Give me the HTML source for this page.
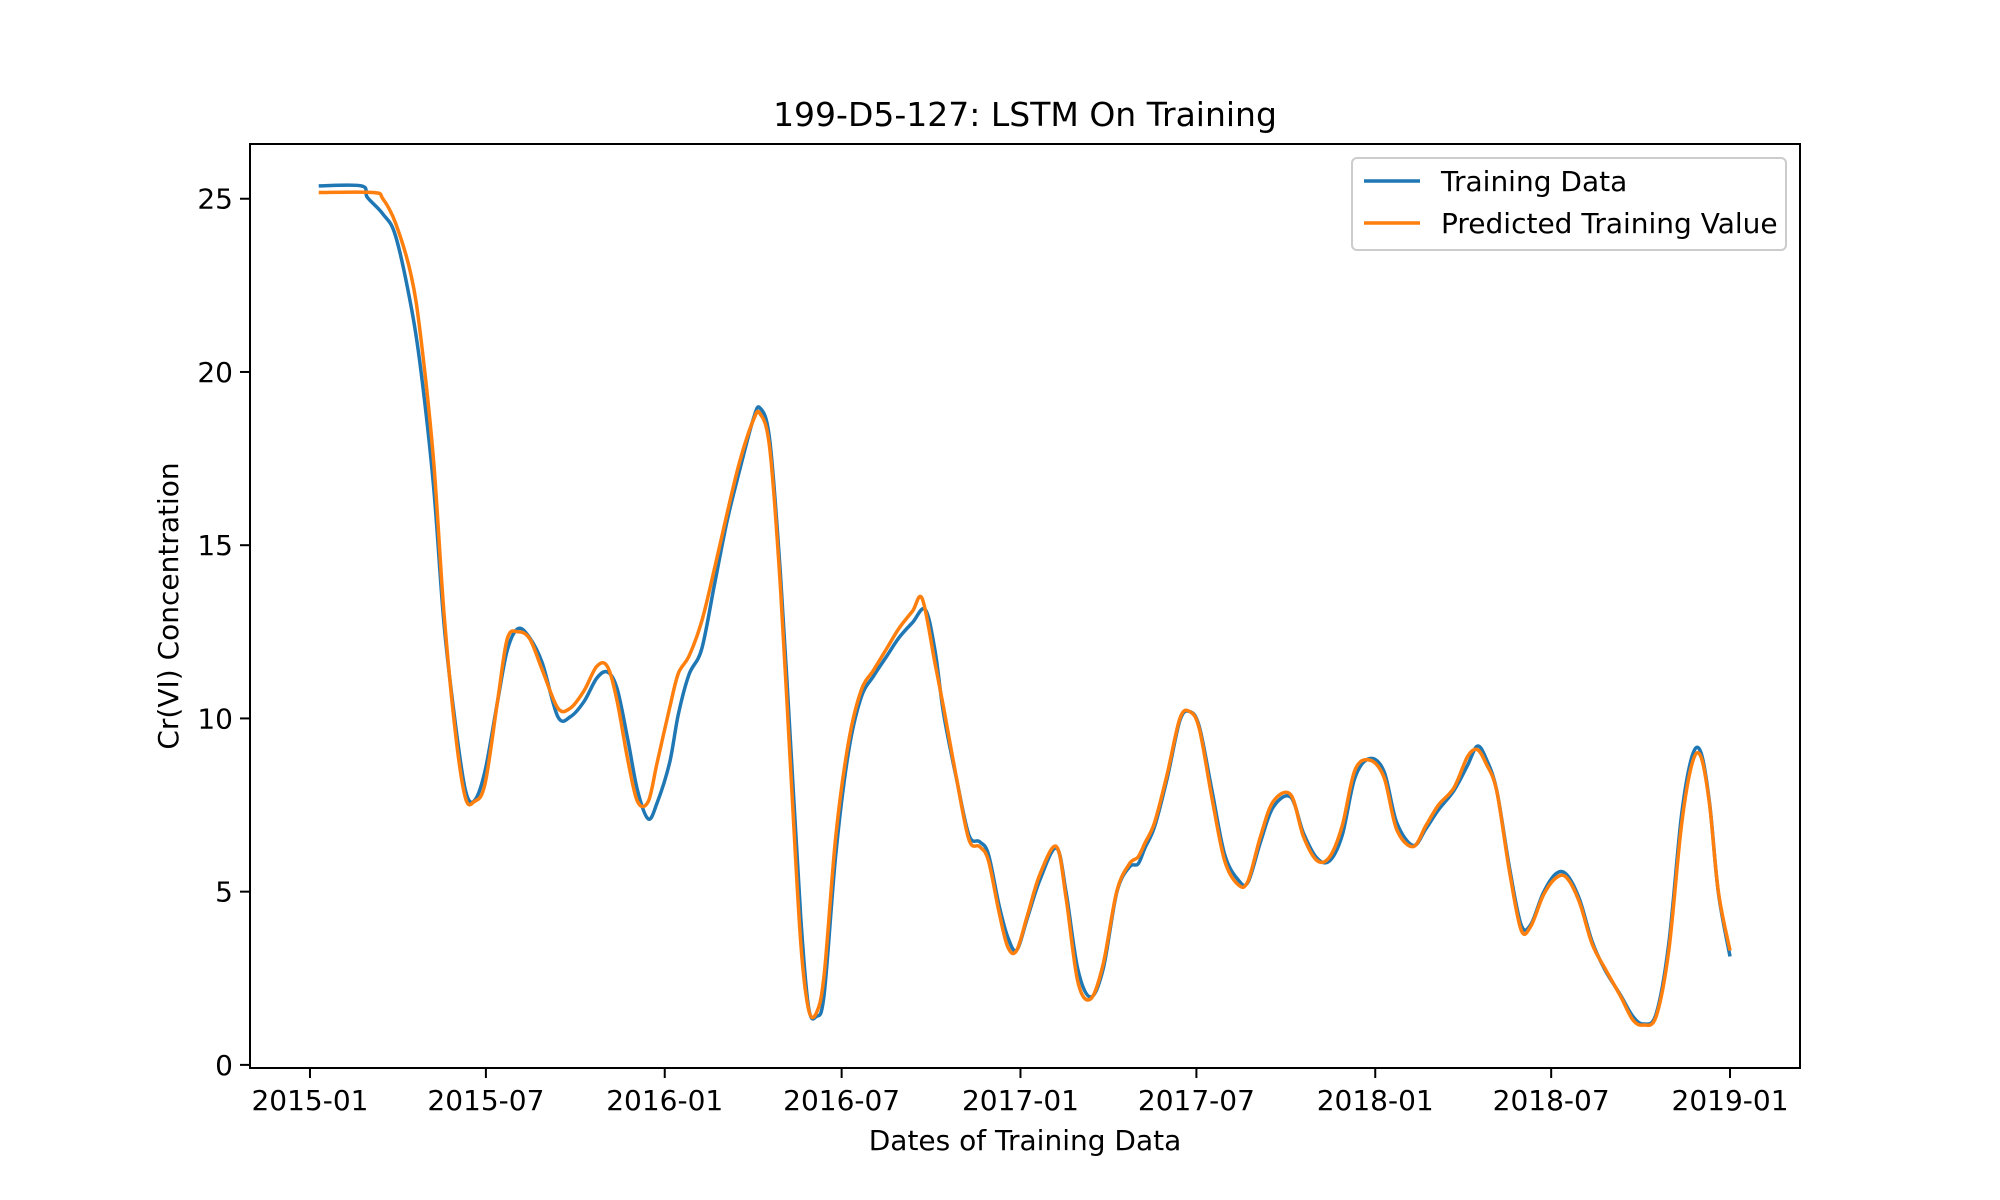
<!DOCTYPE html>
<html><head><meta charset="utf-8"><style>
html,body{margin:0;padding:0;background:#fff}
svg{display:block;font-family:"DejaVu Sans","Liberation Sans",sans-serif}
</style></head><body>
<svg id="chart" width="2000" height="1200" viewBox="0 0 2000 1200">
<rect width="2000" height="1200" fill="#fff"/>
<text x="1025" y="126" font-size="33" text-anchor="middle">199-D5-127: LSTM On Training</text>
<g id="plot"></g>
<rect x="250" y="144" width="1550" height="924" fill="none" stroke="#000" stroke-width="2"/>
<text x="1025" y="1150" font-size="28" text-anchor="middle">Dates of Training Data</text>
<text transform="translate(178,606) rotate(-90)" font-size="28" text-anchor="middle">Cr(VI) Concentration</text>
<g>
<rect x="1352" y="158" width="434" height="92" rx="5" fill="#fff" fill-opacity="0.8" stroke="#ccc" stroke-width="2"/>
<line x1="1364" y1="181" x2="1420" y2="181" stroke="#1f77b4" stroke-width="3.5"/>
<text x="1441" y="191" font-size="28">Training Data</text>
<line x1="1364" y1="223" x2="1420" y2="223" stroke="#ff7f0e" stroke-width="3.5"/>
<text x="1441" y="233" font-size="28">Predicted Training Value</text>
</g>
</svg>
<script>
const trainDays=[9,53,59,75,88,104,114,127,138,150,160,169,180,193,203,214,226,239,255,268,282,295,306,316,327,337,348,357,370,379,390,403,416,429,442,456,463,473,484,495,505,513,521,529,541,554,567,580,593,606,620,633,643,652,665,678,689,698,709,718,727,738,751,768,778,790,803,816,830,843,852,859,869,882,895,905,915,928,941,955,965,978,991,1009,1022,1036,1049,1062,1075,1090,1105,1118,1135,1148,1161,1177,1191,1201,1210,1221,1234,1246,1256,1269,1282,1293,1306,1319,1332,1348,1361,1372,1385,1398,1411,1422,1431,1440,1449,1461];
const trainValues=[25.37,25.37,25.04,24.56,23.93,21.9,20.07,16.75,12.7,9.76,7.92,7.62,8.47,10.49,11.97,12.59,12.33,11.6,10.05,10.05,10.49,11.16,11.34,10.86,9.39,7.92,7.1,7.55,8.72,10.12,11.27,12.0,13.84,15.68,17.16,18.63,18.96,18.04,14.18,9.02,4.23,1.66,1.4,2.03,6.08,9.02,10.6,11.23,11.78,12.33,12.77,13.14,11.97,10.12,8.28,6.63,6.44,6.08,4.6,3.68,3.31,4.23,5.34,6.26,4.97,2.76,1.96,2.76,4.97,5.71,5.8,6.26,6.88,8.28,9.94,10.2,9.76,7.92,6.08,5.34,5.27,6.44,7.44,7.73,6.7,5.97,5.89,6.63,8.28,8.84,8.47,7.0,6.33,6.81,7.36,7.92,8.65,9.2,8.84,7.92,5.71,4.05,4.05,4.97,5.52,5.49,4.79,3.57,2.76,2.03,1.4,1.18,1.47,3.5,7.18,8.91,9.02,7.55,4.97,3.13];
const predDays=[9,65,75,88,104,114,127,138,150,160,169,180,193,203,214,226,239,255,268,282,295,306,316,327,337,348,357,370,379,390,403,416,429,442,456,463,473,484,495,505,513,521,529,541,554,567,580,593,606,620,630,643,652,665,678,689,698,709,718,727,738,751,768,778,790,803,816,830,843,852,859,869,882,895,905,915,928,941,955,965,978,991,1009,1022,1036,1049,1062,1075,1090,1105,1118,1135,1148,1161,1177,1191,1201,1210,1221,1234,1246,1256,1269,1282,1293,1306,1319,1332,1348,1361,1372,1385,1398,1411,1422,1431,1440,1449,1461];
const predValues=[25.18,25.18,25.0,24.3,22.8,21.0,17.5,13.0,9.5,7.7,7.6,8.1,10.5,12.3,12.5,12.3,11.4,10.3,10.3,10.8,11.5,11.5,10.5,8.8,7.6,7.6,8.7,10.3,11.3,11.8,12.8,14.3,15.9,17.4,18.6,18.8,17.8,13.8,8.3,3.5,1.6,1.5,2.6,6.6,9.3,10.8,11.4,12.0,12.6,13.1,13.45,11.6,10.3,8.3,6.5,6.3,5.9,4.4,3.4,3.3,4.3,5.5,6.3,4.8,2.4,1.9,2.9,5.0,5.8,6.0,6.4,7.0,8.4,10.0,10.2,9.7,7.7,5.9,5.2,5.3,6.6,7.6,7.8,6.6,5.9,6.0,6.9,8.5,8.8,8.3,6.8,6.3,6.9,7.5,8.0,8.9,9.1,8.7,7.9,5.6,3.9,4.0,4.9,5.4,5.4,4.7,3.5,2.8,2.0,1.3,1.15,1.4,3.3,6.9,8.7,8.9,7.5,5.0,3.3];
const xTickDays=[0,181,365,547,731,912,1096,1277,1461];
const xTickLabels=["2015-01","2015-07","2016-01","2016-07","2017-01","2017-07","2018-01","2018-07","2019-01"];
const yTicks=[0,5,10,15,20,25];

const X0=250,X1=1800,Y0=1068,Y1=144,DMIN=-61.7,DMAX=1533,VMIN=-0.09,VMAX=26.58;
function xs(d){return X0+(d-DMIN)/(DMAX-DMIN)*(X1-X0);}
function ys(v){return Y0-(v-VMIN)/(VMAX-VMIN)*(Y0-Y1);}
const NS="http://www.w3.org/2000/svg";
const g=document.getElementById('plot');
function mk(t,a){const e=document.createElementNS(NS,t);for(const k in a)e.setAttribute(k,a[k]);g.appendChild(e);return e;}
xTickDays.forEach((d,i)=>{
  const x=xs(d);
  const t=mk('line',{x1:x,y1:Y0,x2:x,y2:Y0+10,stroke:'#000','stroke-width':2});
  
  
  const l=mk('text',{x:x,y:Y0+42,'font-size':28,'text-anchor':'middle'});
  l.textContent=xTickLabels[i];
  
  
});
yTicks.forEach(v=>{
  const y=ys(v);
  const t=mk('line',{x1:X0-10,y1:y,x2:X0,y2:y,stroke:'#000','stroke-width':2});
  
  
  const l=mk('text',{x:X0-17,y:y+10,'font-size':28,'text-anchor':'end'});
  l.textContent=String(v);
  
  
});
function smooth(days,vals){
  const p=days.map((d,i)=>[xs(d),ys(vals[i])]);
  let s='M'+p[0][0]+','+p[0][1];
  for(let i=0;i<p.length-1;i++){
    const a=p[i-1]||p[i],b=p[i],c=p[i+1],d=p[i+2]||c;
    const c1=[b[0]+(c[0]-a[0])/6,b[1]+(c[1]-a[1])/6];
    const c2=[c[0]-(d[0]-b[0])/6,c[1]-(d[1]-b[1])/6];
    s+='C'+c1[0]+','+c1[1]+' '+c2[0]+','+c2[1]+' '+c[0]+','+c[1];
  }
  return s;
}
const l1=mk('path',{d:smooth(trainDays,trainValues),fill:'none',stroke:'#1f77b4','stroke-width':3.5,'stroke-linejoin':'round'});


const l2=mk('path',{d:smooth(predDays,predValues),fill:'none',stroke:'#ff7f0e','stroke-width':3.5,'stroke-linejoin':'round'});


</script>
</body></html>
